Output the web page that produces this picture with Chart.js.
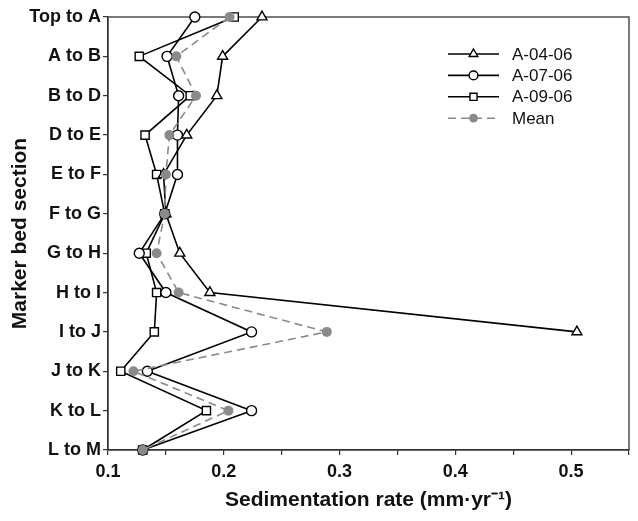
<!DOCTYPE html>
<html>
  <head>
    <script src="https://cdn.jsdelivr.net/npm/chart.js@4.4.1/dist/chart.umd.min.js"></script>
    <style>
      body { margin: 0; background: #fff; }
      #wrap { width: 638px; height: 521px; }
    </style>
  </head>
  <body>
    <div id="wrap"><canvas id="chart-sedimentation"></canvas></div>
    <script>
      // INPUT DATA

      const sections = [
        "Top to A", "A to B", "B to D", "D to E", "E to F", "F to G",
        "G to H", "H to I", "I to J", "J to K", "K to L", "L to M",
      ];
      const rateA0406 = [0.233, 0.199, 0.194, 0.168, 0.148, 0.150, 0.162, 0.188, 0.505, null, null, null];
      const rateA0706 = [0.175, 0.151, 0.161, 0.160, 0.160, 0.149, 0.127, 0.150, 0.224, 0.134, 0.224, 0.130];
      const rateA0906 = [0.209, 0.127, 0.171, 0.132, 0.142, 0.149, 0.133, 0.142, 0.140, 0.111, 0.185, 0.130];
      const rateMean = [0.205, 0.159, 0.176, 0.153, 0.150, 0.149, 0.142, 0.161, 0.289, 0.122, 0.204, 0.130];
      const xTickLabels = ["0.1", "0.2", "0.3", "0.4", "0.5"];

      // PLOTTING

      const black = "#000";
      const grey = "#8a8a8a";

      function solidSeries(label, data, style) {
        return {
          label: label,
          data: data,
          borderColor: black,
          borderWidth: 1.6,
          backgroundColor: "#fff",
          pointStyle: style,
          pointRadius: style === "circle" ? 5 : 5.8,
          pointBorderColor: black,
          pointBackgroundColor: "#fff",
          pointBorderWidth: 1.4,
          order: 1,
          clip: false,
        };
      }

      const plotData = {
        labels: sections,
        datasets: [
          solidSeries("A-04-06", rateA0406, "triangle"),
          solidSeries("A-07-06", rateA0706, "circle"),
          solidSeries("A-09-06", rateA0906, "rect"),
          {
            label: "Mean",
            data: rateMean,
            borderColor: grey,
            borderWidth: 1.6,
            borderDash: [8, 5],
            pointStyle: "circle",
            pointRadius: 5,
            pointBorderColor: grey,
            pointBackgroundColor: grey,
            pointBorderWidth: 0,
            order: 0,
            clip: false,
          },
        ],
      };

      // box around plot + legend inside the plot
      const boxAndLegend = {
        id: "boxAndLegend",
        beforeDatasetsDraw(chart) {
          const a = chart.chartArea;
          const ctx = chart.ctx;
          ctx.save();
          ctx.strokeStyle = "#333";
          ctx.lineWidth = 1.3;
          ctx.strokeRect(a.left, a.top, a.right - a.left, a.bottom - a.top);
          ctx.restore();
        },
        afterDraw(chart) {
          const ctx = chart.ctx;
          const x0 = 448, y0 = 54, rowH = 21.4, len = 51;
          ctx.save();
          chart.data.datasets.forEach(function (ds, i) {
            const y = y0 + i * rowH;
            ctx.strokeStyle = ds.borderColor;
            ctx.lineWidth = ds.borderWidth;
            ctx.setLineDash(ds.borderDash || []);
            ctx.beginPath();
            ctx.moveTo(x0, y);
            ctx.lineTo(x0 + len, y);
            ctx.stroke();
            ctx.setLineDash([]);
            ctx.fillStyle = ds.pointBackgroundColor;
            ctx.strokeStyle = ds.pointBorderColor;
            ctx.lineWidth = ds.pointBorderWidth;
            Chart.helpers.drawPoint(ctx, {
              pointStyle: ds.pointStyle,
              radius: ds.pointStyle === "circle" ? 4.4 : 5,
              rotation: 0,
              borderWidth: ds.pointBorderWidth,
            }, x0 + len / 2, y);
            ctx.fillStyle = "#111";
            ctx.font = "17px 'Liberation Sans', Arial, sans-serif";
            ctx.textBaseline = "middle";
            ctx.fillText(ds.label, x0 + len + 13, y + 1);
          });
          ctx.restore();
        },
      };

      const tickFont = { family: "'Liberation Sans', Arial, sans-serif", size: 18, weight: "bold" };
      const titleFont = { family: "'Liberation Sans', Arial, sans-serif", size: 21, weight: "bold" };

      const chart = new Chart(document.getElementById("chart-sedimentation"), {
        type: "line",
        data: plotData,
        plugins: [boxAndLegend],
        options: {
          indexAxis: "y",
          responsive: true,
          maintainAspectRatio: false,
          animation: false,
          layout: { padding: { left: 0, top: 17, right: 9, bottom: 0 } },
          plugins: { legend: { display: false }, tooltip: { enabled: false } },
          scales: {
            x: {
              type: "linear",
              min: 0.1,
              max: 0.55,
              afterFit(scale) { scale.height = 71; },
              afterBuildTicks(scale) {
                const t = [];
                for (let k = 0; k <= 9; k++) t.push({ value: +(0.1 + k * 0.05).toFixed(2) });
                scale.ticks = t;
              },
              ticks: {
                color: "#111",
                font: tickFont,
                padding: 6,
                maxRotation: 0,
                autoSkip: false,
                callback(v) {
                  const s = v.toFixed(1);
                  return xTickLabels.indexOf(s) >= 0 && Math.abs(v * 10 - Math.round(v * 10)) < 1e-6 ? s : "";
                },
              },
              grid: { drawOnChartArea: false, tickLength: 5, color: "#333", lineWidth: 1.2 },
              border: { color: "#333", width: 1.3 },
              title: {
                display: true,
                text: "Sedimentation rate (mm\u00B7yr\u207B\u00B9)",
                color: "#111",
                font: titleFont,
                padding: { top: 0, bottom: 8 },
              },
            },
            y: {
              type: "category",
              offset: false,
              afterFit(scale) { scale.width = 108; },
              ticks: { color: "#111", font: tickFont, padding: 2, autoSkip: false },
              grid: { drawOnChartArea: false, offset: false, tickLength: 5, color: "#333", lineWidth: 1.2 },
              border: { color: "#333", width: 1.3 },
              title: {
                display: true,
                text: "Marker bed section",
                color: "#111",
                font: titleFont,
                padding: { top: 8, bottom: 0 },
              },
            },
          },
        },
      });
    </script>
  </body>
</html>
